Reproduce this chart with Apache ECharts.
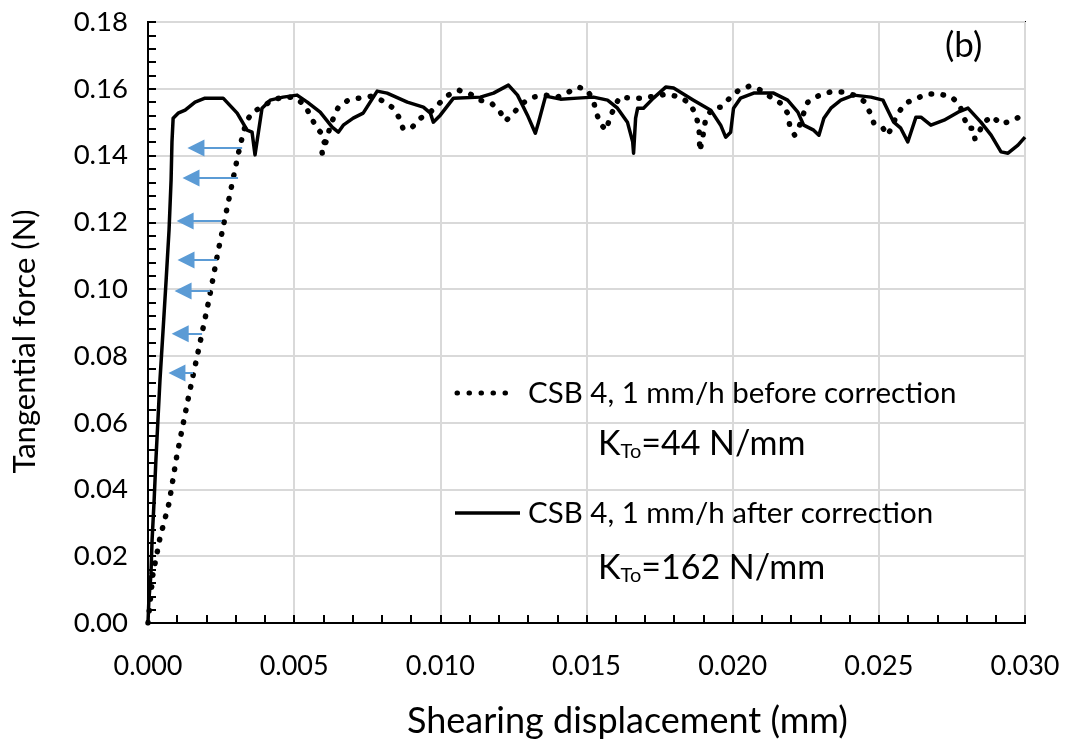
<!DOCTYPE html>
<html>
<head>
<meta charset="utf-8">
<script src="https://cdn.jsdelivr.net/npm/echarts@6/dist/echarts.min.js"></script>
<style>html,body{margin:0;padding:0;background:#fff;}#c{width:1069px;height:744px;}</style>
</head>
<body>
<div id="c"></div>
<script>
// ---- data ----
const beforeName = 'CSB 4, 1 mm/h before correction';
const afterName = 'CSB 4, 1 mm/h after correction';

const beforeX = [0, 0.00017, 0.00041, 0.00072, 0.00099, 0.0014, 0.00175, 0.00209, 0.0024, 0.00274, 0.00308, 0.00325, 0.00336, 0.00356,
  0.0039, 0.00425, 0.00462, 0.00497, 0.00534, 0.00555, 0.00575, 0.00596, 0.00606, 0.00592, 0.00596, 0.00613, 0.00623, 0.00637, 0.00651,
  0.00685, 0.00723, 0.00767, 0.00805, 0.00839, 0.0086, 0.00873, 0.00904, 0.00932, 0.00966, 0.00997, 0.01027, 0.01062, 0.01103, 0.01137,
  0.01178, 0.01205, 0.01223, 0.01253, 0.01281, 0.01318, 0.0136, 0.01401, 0.01438, 0.01473, 0.01503, 0.01524, 0.01534, 0.01548, 0.01568,
  0.01579, 0.01596, 0.01613, 0.01654, 0.01695, 0.01733, 0.01777, 0.01818, 0.01853, 0.01873, 0.01884, 0.01887, 0.01887, 0.01894, 0.01901,
  0.01908, 0.01932, 0.01959, 0.0199, 0.02021, 0.02058, 0.02096, 0.0213, 0.02164, 0.02188, 0.02195, 0.02212, 0.02229, 0.02243, 0.02257,
  0.02291, 0.02332, 0.02373, 0.02414, 0.02449, 0.02469, 0.02483, 0.02514, 0.02531, 0.02565, 0.02592, 0.0263, 0.02668, 0.02709, 0.0275,
  0.02777, 0.02791, 0.02805, 0.02822, 0.02829, 0.02842, 0.02856, 0.02887, 0.02918, 0.02959, 0.02993];
const beforeY = [0, 0.0147, 0.0255, 0.0359, 0.0503, 0.0683, 0.0827, 0.0970, 0.1114, 0.1258, 0.1402, 0.1465, 0.1500, 0.1530,
  0.1545, 0.1566, 0.1575, 0.1575, 0.1554, 0.1521, 0.1485, 0.1464, 0.1443, 0.1428, 0.1407, 0.1452, 0.1488, 0.1518, 0.1545,
  0.1566, 0.1572, 0.1578, 0.1563, 0.1542, 0.1512, 0.1479, 0.1485, 0.1512, 0.1530, 0.1557, 0.1581, 0.1596, 0.1584, 0.1566,
  0.1554, 0.1530, 0.1503, 0.1530, 0.1557, 0.1575, 0.1581, 0.1575, 0.1590, 0.1605, 0.1596, 0.1563, 0.1527, 0.1494, 0.1476,
  0.1512, 0.1545, 0.1575, 0.1572, 0.1572, 0.1578, 0.1584, 0.1575, 0.1557, 0.1524, 0.1488, 0.1452, 0.1413, 0.1437, 0.1473,
  0.1512, 0.1542, 0.1545, 0.1572, 0.1596, 0.1608, 0.1596, 0.1575, 0.1557, 0.1527, 0.1491, 0.1461, 0.1491, 0.1527, 0.1560,
  0.1578, 0.1590, 0.1590, 0.1581, 0.1563, 0.1530, 0.1497, 0.1482, 0.1461, 0.1527, 0.1557, 0.1572, 0.1584, 0.1584, 0.1575,
  0.1551, 0.1515, 0.1482, 0.1482, 0.1449, 0.1467, 0.1497, 0.1518, 0.1494, 0.1506, 0.1521];

const afterX = [0, 0.00003, 0.0001, 0.00014, 0.00021, 0.00027, 0.00034, 0.00041, 0.00051, 0.00062, 0.00072, 0.00079, 0.00082, 0.00086,
  0.00103, 0.00127, 0.00161, 0.00195, 0.00257, 0.00305, 0.00339, 0.00356, 0.00366, 0.0039, 0.00418, 0.00462, 0.0051, 0.00545, 0.00589,
  0.0063, 0.00651, 0.00668, 0.00702, 0.00736, 0.00784, 0.00818, 0.00887, 0.00942, 0.00966, 0.00976, 0.01, 0.01045, 0.01137, 0.01182,
  0.01233, 0.01264, 0.01298, 0.01325, 0.01336, 0.01349, 0.0136, 0.01411, 0.01469, 0.01524, 0.01572, 0.01606, 0.0164, 0.01658, 0.01661,
  0.01668, 0.01675, 0.01695, 0.01729, 0.01771, 0.01798, 0.01866, 0.01925, 0.01959, 0.01976, 0.01993, 0.02003, 0.02027, 0.02072, 0.0212,
  0.0214, 0.02188, 0.02223, 0.02243, 0.02277, 0.02295, 0.02312, 0.02336, 0.0237, 0.02414, 0.02473, 0.02514, 0.02534, 0.02551, 0.02575,
  0.02599, 0.0261, 0.02627, 0.02644, 0.02678, 0.02723, 0.02771, 0.02805, 0.02849, 0.02884, 0.02918, 0.02942, 0.02976, 0.03];
const afterY = [0, 0.0069, 0.0144, 0.0249, 0.0368, 0.0488, 0.0608, 0.0728, 0.0869, 0.1027, 0.1177, 0.1327, 0.1441, 0.1512,
  0.1527, 0.1536, 0.1560, 0.1572, 0.1572, 0.1527, 0.1476, 0.1470, 0.1402, 0.1542, 0.1566, 0.1575, 0.1581, 0.1560, 0.1530,
  0.1485, 0.1470, 0.1491, 0.1512, 0.1527, 0.1593, 0.1587, 0.1560, 0.1545, 0.1527, 0.1500, 0.1521, 0.1572, 0.1575, 0.1587,
  0.1611, 0.1581, 0.1521, 0.1467, 0.1500, 0.1542, 0.1578, 0.1569, 0.1572, 0.1575, 0.1566, 0.1542, 0.1500, 0.1441, 0.1407,
  0.1512, 0.1542, 0.1542, 0.1572, 0.1605, 0.1602, 0.1566, 0.1536, 0.1491, 0.1455, 0.1470, 0.1542, 0.1572, 0.1587, 0.1587,
  0.1587, 0.1566, 0.1530, 0.1491, 0.1476, 0.1461, 0.1512, 0.1542, 0.1566, 0.1581, 0.1575, 0.1566, 0.1530, 0.1500, 0.1482,
  0.1441, 0.1470, 0.1515, 0.1515, 0.1491, 0.1506, 0.1530, 0.1542, 0.1500, 0.1461, 0.1411, 0.1407, 0.1431, 0.1455];

const arrowY = [0.1423, 0.1333, 0.1204, 0.1087, 0.0994, 0.0866, 0.0749];
const arrowTailX = [0.00322, 0.00308, 0.00253, 0.00236, 0.00212, 0.00185, 0.00154];
const arrowHeadX = [0.00164, 0.00147, 0.00127, 0.0013, 0.0012, 0.0011, 0.00099];

const xTicks = { min: 0, max: 0.03, interval: 0.005 };
const yTicks = { min: 0, max: 0.18, interval: 0.02 };

// ---- chart ----
const FONT = 'Lato';
const beforeData = beforeX.map((x, i) => [x, beforeY[i]]);
const afterData = afterX.map((x, i) => [x, afterY[i]]);
const arrowData = arrowY.map((y, i) => ({ coords: [[arrowTailX[i], y], [arrowHeadX[i], y]] }));

const kRich = {
  k: { fontFamily: FONT, fontSize: 34, fill: '#000', lineHeight: 40 },
  s: { fontFamily: FONT, fontSize: 20, fill: '#000', padding: [16, 0, 0, 0] }
};

const chart = echarts.init(document.getElementById('c'), null, { renderer: 'canvas' });
chart.setOption({
  animation: false,
  backgroundColor: '#fff',
  grid: { left: 148, right: 44, top: 22, bottom: 121, show: true, borderColor: '#000', borderWidth: 2, backgroundColor: 'transparent' },
  xAxis: {
    type: 'value', min: xTicks.min, max: xTicks.max, interval: xTicks.interval,
    name: 'Shearing displacement (mm)', nameLocation: 'middle', nameGap: 80,
    nameTextStyle: { fontFamily: FONT, fontSize: 36, color: '#000', padding: [0, 0, 0, 82] },
    axisLine: { show: true, onZero: false, lineStyle: { color: '#000', width: 2 } },
    axisTick: { show: true, inside: true, length: 8, lineStyle: { color: '#000', width: 2 } },
    minorTick: { show: true, splitNumber: 5, length: 8, lineStyle: { color: '#000', width: 2 } },
    splitLine: { show: true, lineStyle: { color: '#D9D9D9', width: 2 } },
    axisLabel: { fontFamily: FONT, fontSize: 27, color: '#000', margin: 30, formatter: v => v.toFixed(3) }
  },
  yAxis: {
    type: 'value', min: yTicks.min, max: yTicks.max, interval: yTicks.interval,
    name: 'Tangential force (N)', nameLocation: 'middle', nameGap: 108, nameRotate: 90,
    nameTextStyle: { fontFamily: FONT, fontSize: 31, color: '#000', padding: [0, 38, 0, 0] },
    axisLine: { show: true, onZero: false, lineStyle: { color: '#000', width: 2 } },
    axisTick: { show: true, inside: true, length: 8, lineStyle: { color: '#000', width: 2 } },
    minorTick: { show: true, splitNumber: 5, length: 8, lineStyle: { color: '#000', width: 2 } },
    splitLine: { show: true, lineStyle: { color: '#D9D9D9', width: 2 } },
    axisLabel: { fontFamily: FONT, fontSize: 27.5, color: '#000', margin: 20, formatter: v => v.toFixed(2) }
  },
  graphic: [
    { type: 'line', shape: { x1: 457, y1: 393, x2: 517, y2: 393 }, style: { stroke: '#000', lineWidth: 5, lineDash: [0.5, 11.5], lineCap: 'round' }, z: 10 },
    { type: 'text', x: 528, y: 393, style: { text: beforeName, fontFamily: FONT, fontSize: 29.5, fill: '#000', verticalAlign: 'middle' }, z: 10 },
    { type: 'line', shape: { x1: 455, y1: 513, x2: 520, y2: 513 }, style: { stroke: '#000', lineWidth: 3.5 }, z: 10 },
    { type: 'text', x: 528, y: 513, style: { text: afterName, fontFamily: FONT, fontSize: 29.5, fill: '#000', verticalAlign: 'middle' }, z: 10 },
    { type: 'text', left: 598, top: 427, style: { text: '{k|K}{s|To}{k|=44 N/mm}', rich: kRich }, z: 10 },
    { type: 'text', left: 598, top: 551, style: { text: '{k|K}{s|To}{k|=162 N/mm}', rich: kRich }, z: 10 },
    { type: 'text', left: 945, top: 28, style: { text: '(b)', fontFamily: FONT, fontSize: 35, fill: '#000' }, z: 10 }
  ],
  series: [
    { name: beforeName, type: 'line', data: beforeData, symbol: 'none', showSymbol: false, smooth: false,
      lineStyle: { color: '#000', width: 5.5, type: [0.5, 11.5], cap: 'round' }, itemStyle: { color: '#000' }, z: 3 },
    { name: afterName, type: 'line', data: afterData, symbol: 'none', showSymbol: false, smooth: false,
      lineStyle: { color: '#000', width: 3.5, join: 'round' }, itemStyle: { color: '#000' }, z: 4 },
    { name: 'arrows', type: 'lines', coordinateSystem: 'cartesian2d', data: arrowData,
      symbol: ['none', 'triangle'], symbolSize: [16, 17],
      lineStyle: { color: '#5B9BD5', width: 2, opacity: 1, curveness: 0 }, z: 5 }
  ]
});
</script>
</body>
</html>
